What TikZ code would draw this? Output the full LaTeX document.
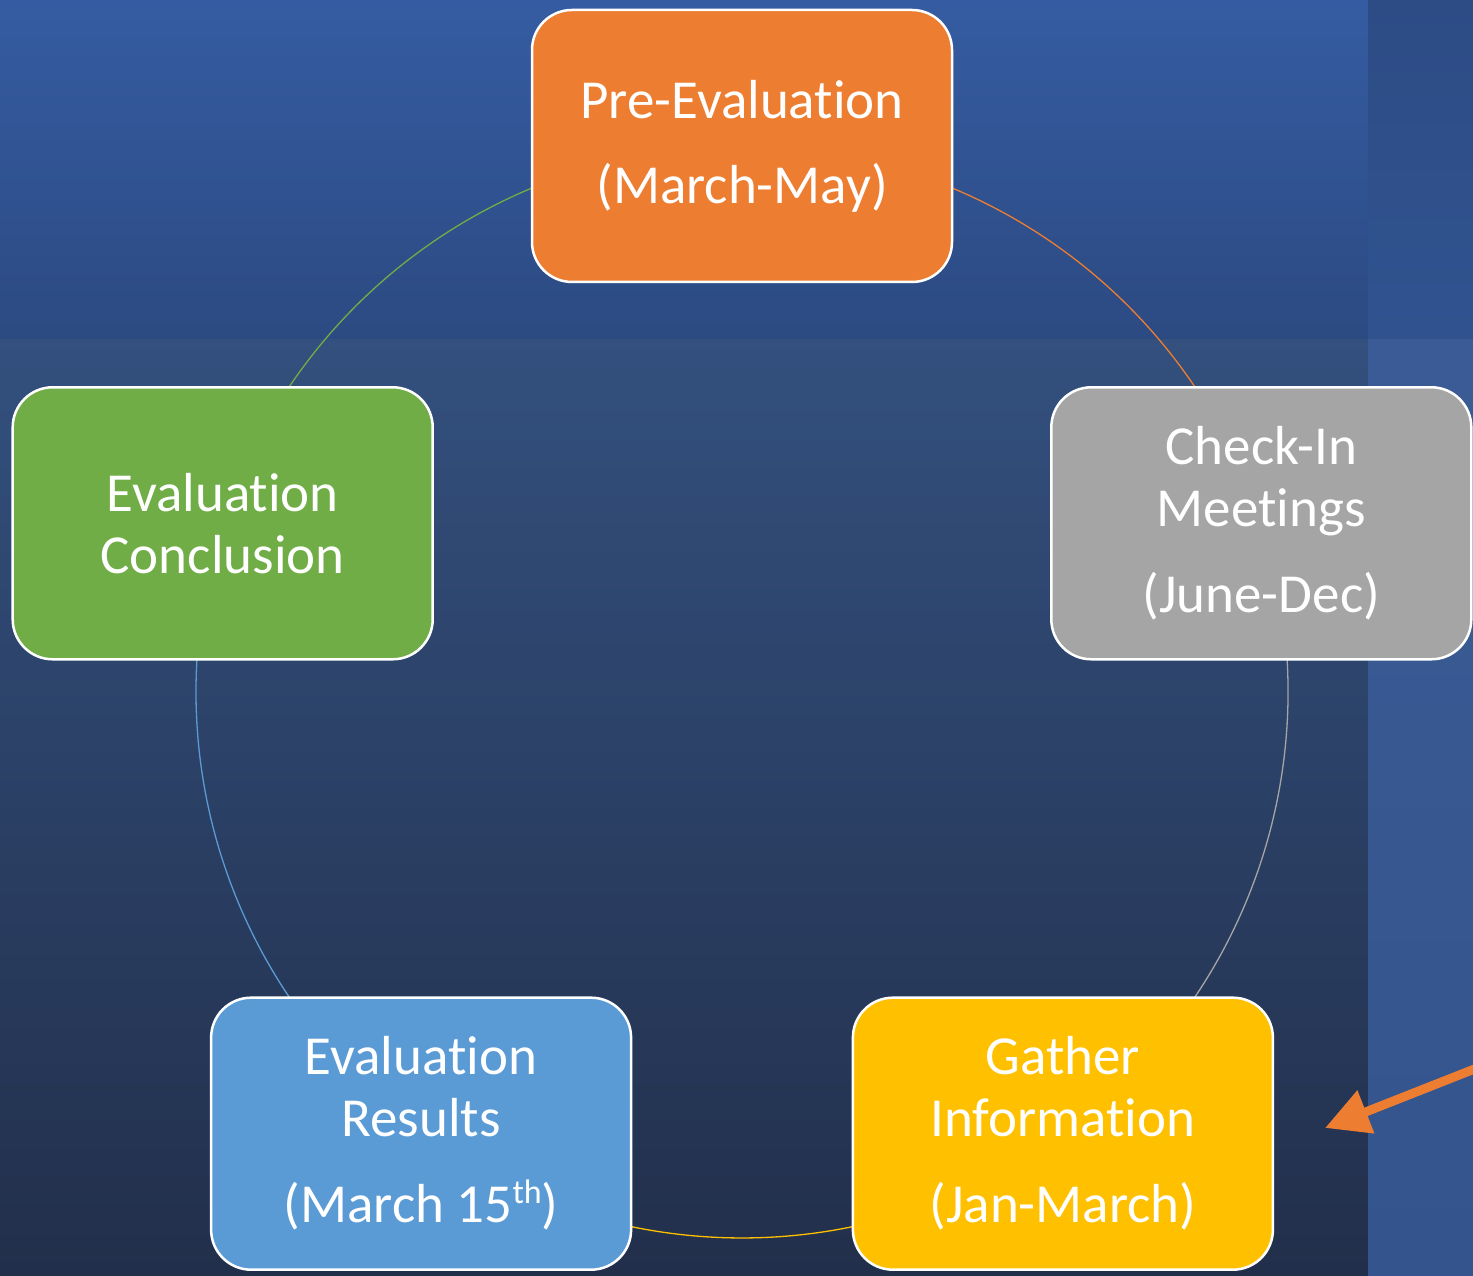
\documentclass[tikz,border=0pt]{standalone}
\usepackage{fontspec}
\setmainfont[Ligatures={NoCommon}]{Carlito}
\usetikzlibrary{arrows.meta,backgrounds}
\definecolor{cOrange}{HTML}{ED7D31}
\definecolor{cGray}{HTML}{A5A5A5}
\definecolor{cYellow}{HTML}{FFC000}
\definecolor{cBlue}{HTML}{5B9BD5}
\definecolor{cGreen}{HTML}{70AD47}
\definecolor{bgAtop}{HTML}{355CA2}
\definecolor{bgAbot}{HTML}{2C4A82}
\definecolor{bgBtop}{HTML}{33507E}
\definecolor{bgBbot}{HTML}{222F4B}
\definecolor{bgCtop}{HTML}{2D4C86}
\definecolor{bgCbot}{HTML}{30538F}
\definecolor{bgDtop}{HTML}{3B5B96}
\definecolor{bgDbot}{HTML}{34548D}
\newcommand{\supth}[1]{\raisebox{19pt}{\fontsize{34}{34}\selectfont #1}}
\tikzset{
  stage/.style={rounded corners=40pt, minimum width=420pt, minimum height=272pt,
    draw=white, line width=2.5pt, text=white, align=center, inner sep=0pt,
    font=\fontsize{55}{62}\selectfont},
  ring/.style={line width=1.3pt},
  pointer/.style={draw=cOrange, line width=9pt, -{Triangle[length=44pt,width=44pt]}}
}
\begin{document}
\begin{tikzpicture}[x=1pt,y=1pt]
\useasboundingbox (0,0) rectangle (1473,1276);
\clip (0,0) rectangle (1473,1276);
% stages (y upward: pixel y -> 1276 - y)
\node[stage, fill=cOrange] (pre) at (742,1130) {Pre-Evaluation\\[23pt](March-May)};
\node[stage, fill=cGray] (check) at (1261.3,752.7) {Check-In\\Meetings\\[24pt](June-Dec)};
\node[stage, fill=cYellow] (gather) at (1062.9,142.3) {Gather\\Information\\[24pt](Jan-March)};
\node[stage, fill=cBlue] (results) at (421.1,142.3) {Evaluation\\Results\\[24pt](March 15\supth{th})};
\node[stage, fill=cGreen] (concl) at (222.7,752.7) {Evaluation\\Conclusion};
\coordinate (arrowtail) at (1510,221);
\coordinate (arrowtip) at (1325,148);
\draw[pointer] (arrowtail) -- (arrowtip);
\begin{pgfonlayer}{background}
  \shade[top color=bgAtop, bottom color=bgAbot] (0,936) rectangle (1368,1276);
  \shade[top color=bgBtop, bottom color=bgBbot] (0,0) rectangle (1368,936);
  \shade[top color=bgCtop, bottom color=bgCbot] (1368,936) rectangle (1473,1276);
  \shade[top color=bgDtop, bottom color=bgDbot] (1368,0) rectangle (1473,936);
  \draw[ring, cOrange] (pre.center) arc[start angle=90, end angle=18, radius=546pt];
  \draw[ring, cGray] (check.center) arc[start angle=18, end angle=-54, radius=546pt];
  \draw[ring, cYellow] (gather.center) arc[start angle=-54, end angle=-126, radius=546pt];
  \draw[ring, cBlue] (results.center) arc[start angle=234, end angle=162, radius=546pt];
  \draw[ring, cGreen] (concl.center) arc[start angle=162, end angle=90, radius=546pt];
\end{pgfonlayer}
\end{tikzpicture}
\end{document}
